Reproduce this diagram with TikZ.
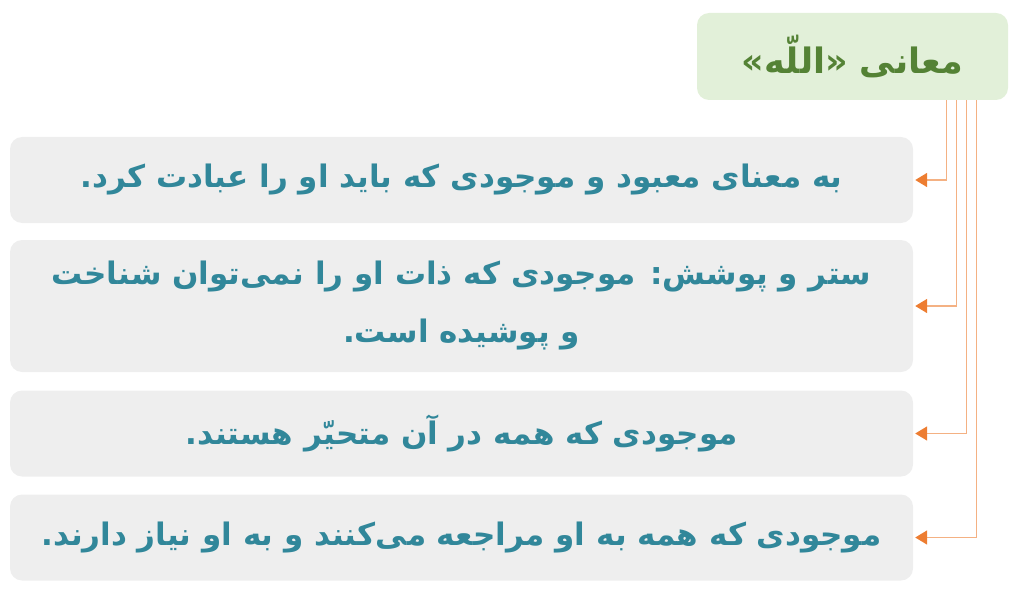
\documentclass[tikz,border=0pt]{standalone}
\usepackage{fontspec}
\TeXXeTstate=1
\newfontfamily\arabicfont[Script=Arabic]{DejaVu Sans}
\usepackage{tikz}
\usetikzlibrary{arrows.meta}
\definecolor{titleFill}{HTML}{E2F0D9}
\definecolor{titleText}{HTML}{548235}
\definecolor{boxFill}{HTML}{EEEEEE}
\definecolor{boxText}{HTML}{31879A}
\definecolor{lineOrange}{HTML}{F4B183}
\definecolor{tipOrange}{HTML}{ED7D31}

\begin{document}
\begin{tikzpicture}[x=1pt,y=-1pt,
  meaning/.style={fill=boxFill,rounded corners=12pt,minimum width=903pt,
    minimum height=86pt,align=center,text=boxText,
    font=\arabicfont\bfseries\fontsize{31}{58}\selectfont},
  conn/.style={lineOrange,line width=1.8pt,shorten >=2pt,
    -{Triangle[color=tipOrange,length=12pt,width=14pt]}}]
\useasboundingbox (0,0) rectangle (1024,596);
\node[fill=titleFill,rounded corners=12pt,minimum width=311pt,minimum height=87pt,
  text=titleText,font=\arabicfont\bfseries\fontsize{35}{40}\selectfont]
  (title) at (852.5,56.5) {\beginR معانی «اللّه»\endR};
\node[meaning] (b1) at (461.5,180) {\beginR به معنای معبود و موجودی که باید او را عبادت کرد.\endR};
\node[meaning,minimum height=132pt] (b2) at (461.5,306)
  {\beginR ستر و پوشش: موجودی که ذات او را نمی‌توان شناخت\endR\\
   \beginR و پوشیده است.\endR};
\node[meaning] (b3) at (461.5,433.5) {\beginR موجودی که همه در آن متحیّر هستند.\endR};
\node[meaning] (b4) at (461.5,537.5) {\beginR موجودی که همه به او مراجعه می‌کنند و به او نیاز دارند.\endR};
% connectors from the title
\draw[conn] ([xshift=94pt]title.south) |- (b1.east);
\draw[conn] ([xshift=104pt]title.south) |- (b2.east);
\draw[conn] ([xshift=114pt]title.south) |- (b3.east);
\draw[conn] ([xshift=124pt]title.south) |- (b4.east);
\end{tikzpicture}
\end{document}
